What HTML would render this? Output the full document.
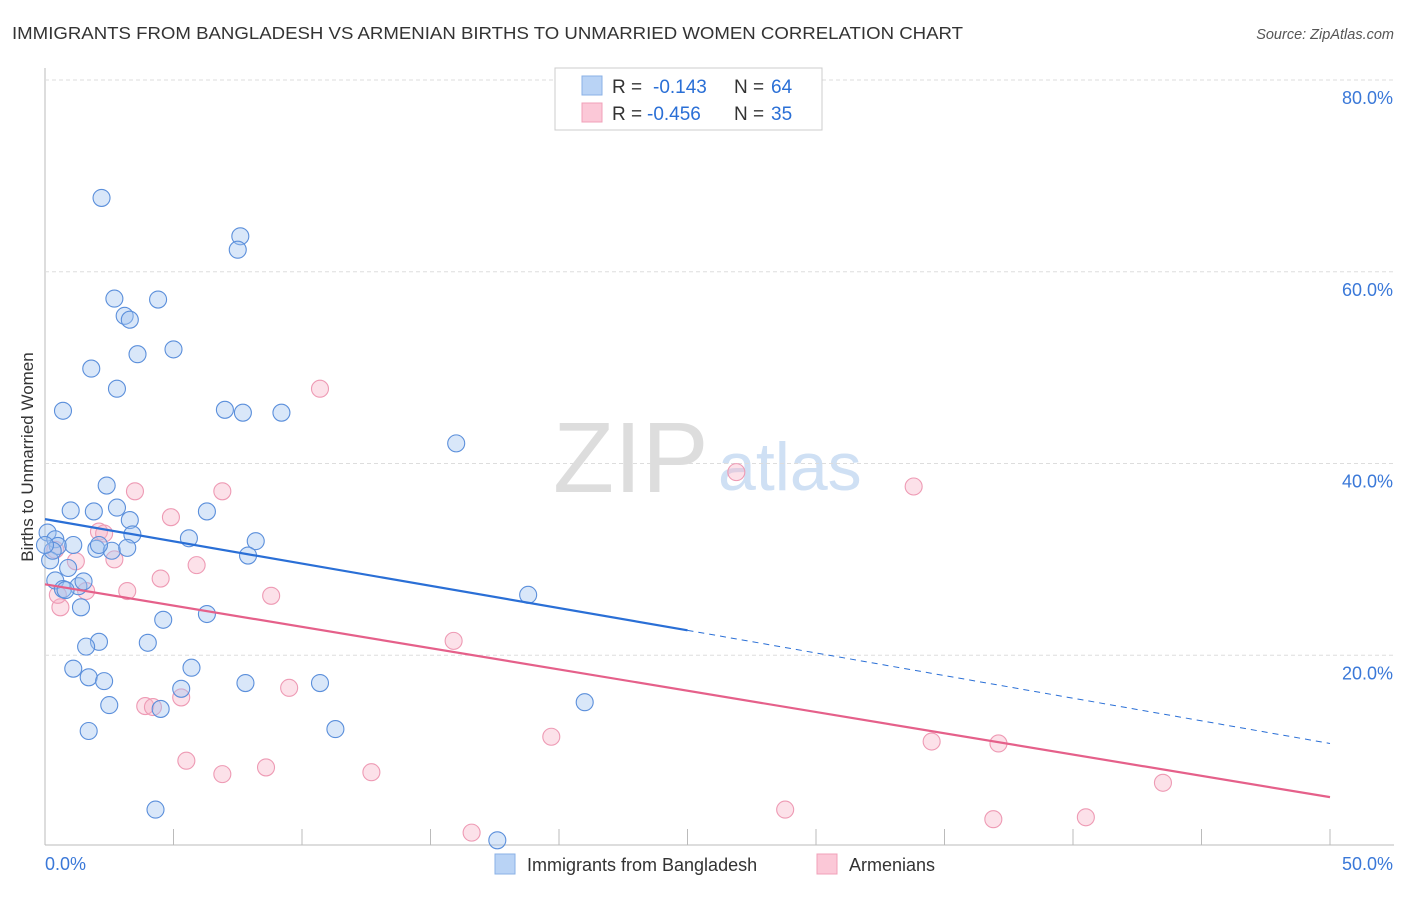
<!DOCTYPE html>
<html><head><meta charset="utf-8">
<style>
body{margin:0;background:#fff;font-family:"Liberation Sans",sans-serif;}
svg text{font-family:"Liberation Sans",sans-serif;}
</style></head>
<body>
<svg id="chart" width="1406" height="892" xmlns="http://www.w3.org/2000/svg">
<text x="12" y="39" font-size="17.5" fill="#333" textLength="951" lengthAdjust="spacingAndGlyphs">IMMIGRANTS FROM BANGLADESH VS ARMENIAN BIRTHS TO UNMARRIED WOMEN CORRELATION CHART</text>
<text x="1394" y="39" font-size="14.5" fill="#555" font-style="italic" text-anchor="end">Source: ZipAtlas.com</text>
<text x="33" y="457" font-size="17" fill="#333" transform="rotate(-90 33 457)" text-anchor="middle">Births to Unmarried Women</text>
<text x="553" y="492" font-size="100" fill="#ddd" font-family="Liberation Serif">ZIP</text>
<text x="718" y="490" font-size="68" fill="#cfe0f4">atlas</text>
<g id="grid"></g>
<g id="pts"></g>
<g id="trend"></g>
<g>
<rect x="555" y="68" width="267" height="62" fill="#fff" stroke="#ccc"/>
<rect x="582" y="76" width="20" height="19" fill="#b9d3f5" stroke="#8ab0e6"/>
<rect x="582" y="103" width="20" height="19" fill="#fbc8d7" stroke="#f0a0b8"/>
<text x="612" y="93" font-size="19" fill="#333">R =</text>
<text x="653" y="93" font-size="19" fill="#2a6fd6">-0.143</text>
<text x="734" y="93" font-size="19" fill="#333">N =</text>
<text x="771" y="93" font-size="19" fill="#2a6fd6">64</text>
<text x="612" y="120" font-size="19" fill="#333">R =</text>
<text x="647" y="120" font-size="19" fill="#2a6fd6">-0.456</text>
<text x="734" y="120" font-size="19" fill="#333">N =</text>
<text x="771" y="120" font-size="19" fill="#2a6fd6">35</text>
</g>
<g>
<rect x="495" y="854" width="20" height="20" fill="#b9d3f5" stroke="#8ab0e6"/>
<text x="527" y="871" font-size="18" fill="#333">Immigrants from Bangladesh</text>
<rect x="817" y="854" width="20" height="20" fill="#fbc8d7" stroke="#f0a0b8"/>
<text x="849" y="871" font-size="18" fill="#333">Armenians</text>
</g>
</svg>
<script>
const yTicks=[20,40,60,80];
const xTickLabels=["0.0%","50.0%"];
const blueX=[2.2,7.6,7.5,2.7,4.4,3.1,3.3,3.6,5.0,1.8,2.8,0.7,7.0,7.7,9.2,16.0,2.4,1.0,1.9,2.8,6.3,3.3,3.4,5.6,8.2,0.1,0.4,0.5,1.1,2.0,2.6,3.2,7.9,0.9,0.4,0.7,1.3,1.5,18.8,1.4,4.6,6.3,2.1,1.6,4.0,1.1,1.7,2.3,5.7,7.8,10.7,5.3,2.5,4.5,1.7,11.3,21.0,4.3,17.6,0.2,0.3,0.8,0.0,2.1];
const blueY=[67.7,63.7,62.3,57.2,57.1,55.4,55.0,51.4,51.9,49.9,47.8,45.5,45.6,45.3,45.3,42.1,37.7,35.1,35.0,35.4,35.0,34.1,32.6,32.2,31.9,32.8,32.1,31.4,31.5,31.1,30.9,31.2,30.4,29.1,27.8,26.9,27.2,27.7,26.3,25.0,23.7,24.3,21.4,20.9,21.3,18.6,17.7,17.3,18.7,17.1,17.1,16.5,14.8,14.4,12.1,12.3,15.1,3.9,0.7,29.9,30.9,26.8,31.5,31.5];
const pinkX=[10.7,26.9,33.8,3.5,6.9,4.9,2.1,2.3,0.4,1.2,2.7,5.9,4.5,3.2,8.8,1.6,0.6,0.5,15.9,5.3,9.5,3.9,4.2,19.7,34.5,37.1,5.5,6.9,8.6,12.7,43.5,28.8,36.9,40.5,16.6];
const pinkY=[47.8,39.1,37.6,37.1,37.1,34.4,32.9,32.7,31.0,29.8,30.0,29.4,28.0,26.7,26.2,26.7,25.0,26.3,21.5,15.6,16.6,14.7,14.6,11.5,11.0,10.8,9.0,7.6,8.3,7.8,6.7,3.9,2.9,3.1,1.5];
const blueTrend=[34.2,22.6,10.8];
const pinkTrend=[27.4,5.2];
const NS="http://www.w3.org/2000/svg";
const X=v=>45+v*25.7, Y=v=>847-v*9.5875;
function mk(t,a,p){const e=document.createElementNS(NS,t);for(const k in a)e.setAttribute(k,a[k]);p.appendChild(e);return e;}
const grid=document.getElementById('grid');
mk('line',{x1:45,y1:845,x2:1394,y2:845,stroke:'#bbb'},grid);
mk('line',{x1:45,y1:68,x2:45,y2:845,stroke:'#bbb'},grid);
yTicks.forEach(t=>{
 const l=mk('line',{x1:45,y1:Y(t),x2:1394,y2:Y(t),stroke:'#ddd','stroke-dasharray':'4,3'},grid);
 
 
 const tx=mk('text',{x:1393,y:Y(t)+24,'font-size':18,fill:'#3a78d8','text-anchor':'end'},grid);
 tx.textContent=t.toFixed(1)+'%';
 
 
});
for(let i=1;i<=10;i++){const x=X(i*5);mk('line',{x1:x,y1:829,x2:x,y2:845,stroke:'#bbb'},grid);}
const x0=mk('text',{x:45,y:870,'font-size':18,fill:'#3a78d8'},grid);x0.textContent=xTickLabels[0];


const x1=mk('text',{x:1393,y:870,'font-size':18,fill:'#3a78d8','text-anchor':'end'},grid);x1.textContent=xTickLabels[1];


const pts=document.getElementById('pts');
pinkX.forEach((v,i)=>{const c=mk('circle',{cx:X(v),cy:Y(pinkY[i]),r:8.5,fill:'rgba(248,180,200,0.4)',stroke:'#ee9ab4','stroke-width':1.1},pts);
 
 });
blueX.forEach((v,i)=>{const c=mk('circle',{cx:X(v),cy:Y(blueY[i]),r:8.5,fill:'rgba(160,196,240,0.4)',stroke:'#5b8fdb','stroke-width':1.1},pts);
 
 });
const tr=document.getElementById('trend');
const b1=mk('line',{x1:X(0),y1:Y(blueTrend[0]),x2:X(25),y2:Y(blueTrend[1]),stroke:'#2a6fd6','stroke-width':2.2},tr);


const b2=mk('line',{x1:X(25),y1:Y(blueTrend[1]),x2:X(50),y2:Y(blueTrend[2]),stroke:'#2a6fd6','stroke-width':1,'stroke-dasharray':'6,5'},tr);


const p1=mk('line',{x1:X(0),y1:Y(pinkTrend[0]),x2:X(50),y2:Y(pinkTrend[1]),stroke:'#e5608a','stroke-width':2.2},tr);


</script>
</body></html>
